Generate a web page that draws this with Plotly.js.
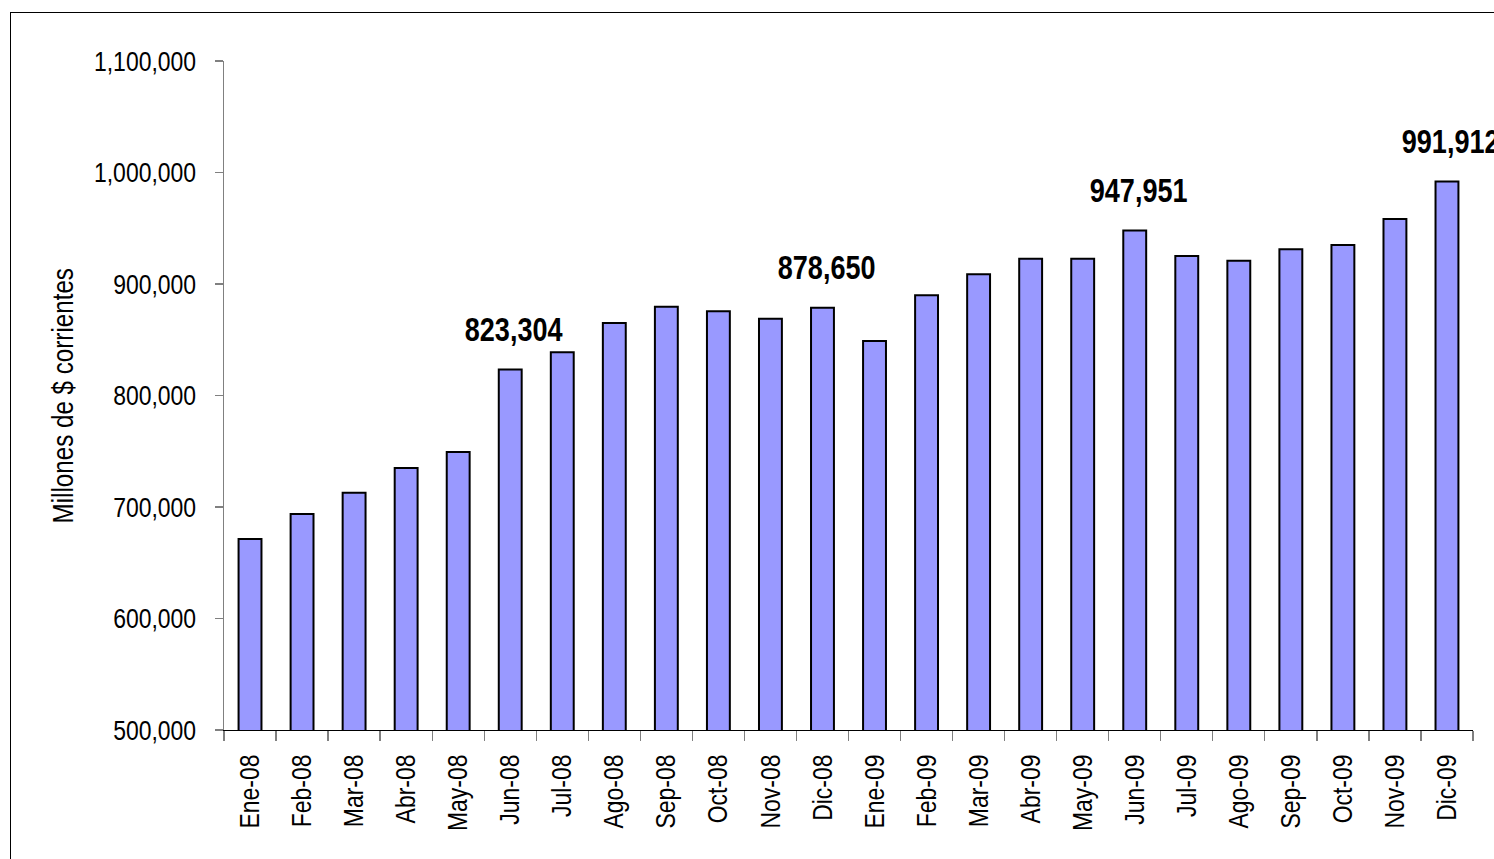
<!DOCTYPE html>
<html>
<head>
<meta charset="utf-8">
<script src="https://cdn.plot.ly/plotly-3.0.1.min.js"></script>
<style>
  html, body { margin: 0; padding: 0; background: #fff; overflow: hidden; }
  #chart { width: 1494px; height: 859px; position: relative; }
  #frame { position: absolute; left: 10px; top: 12px; width: 1700px; height: 1000px;
           border-left: 1.3px solid #000; border-top: 1.3px solid #000; pointer-events: none; }
</style>
</head>
<body>
<div id="chart"></div>
<div id="frame"></div>
<script>
const categories = ["Ene-08","Feb-08","Mar-08","Abr-08","May-08","Jun-08","Jul-08","Ago-08","Sep-08","Oct-08","Nov-08","Dic-08",
                    "Ene-09","Feb-09","Mar-09","Abr-09","May-09","Jun-09","Jul-09","Ago-09","Sep-09","Oct-09","Nov-09","Dic-09"];
const values = [671300, 693700, 712800, 735000, 749300, 823304, 838700, 865000, 879600, 875500, 868900, 878650,
                848900, 889900, 908700, 922700, 922700, 947951, 925100, 920900, 931100, 935000, 958300, 991912];
const labelled = ["Jun-08", "Dic-08", "Jun-09", "Dic-09"];
const yTicks = [500000, 600000, 700000, 800000, 900000, 1000000, 1100000];
const yTickText = ["500,000","600,000","700,000","800,000","900,000","1,000,000","1,100,000"];
const yTitle = "Millones de $ corrientes";

const FONT = "'Liberation Sans', Arial, sans-serif";
const NARROW = 0.82; // emulate Arial Narrow by horizontal scaling of real text
const fmt = v => v.toLocaleString('en-US');

const annotations = labelled.map(c => {
  const i = categories.indexOf(c);
  return {
    x: c, y: values[i], xref: 'x', yref: 'y',
    text: '<b>' + fmt(values[i]) + '</b>',
    showarrow: false, yanchor: 'bottom', xanchor: 'center',
    yshift: 20, xshift: 4,
    font: { family: FONT, size: 33, color: '#000' }
  };
});
annotations.push({
  xref: 'paper', yref: 'paper', x: -0.1297, y: 0.5,
  text: yTitle, textangle: -90, showarrow: false,
  xanchor: 'center', yanchor: 'middle',
  font: { family: FONT, size: 29.5, color: '#000' }
});

const trace = {
  type: 'bar', x: categories, y: values,
  marker: { color: '#9999FF', line: { color: '#000', width: 2 } },
  hoverinfo: 'x+y'
};

const layout = {
  width: 1494, height: 859,
  margin: { l: 224, r: 21, t: 61, b: 129 },
  paper_bgcolor: '#fff', plot_bgcolor: '#fff',
  bargap: 0.56,
  showlegend: false,
  font: { family: FONT, size: 28, color: '#000' },
  xaxis: {
    type: 'category', range: [-0.5, categories.length - 0.5],
    showgrid: false, zeroline: false,
    showline: true, linecolor: '#000', linewidth: 1.3,
    ticks: 'outside', tickson: 'boundaries', ticklen: 10, tickcolor: '#808080', tickwidth: 1.3,
    tickangle: -90, tickfont: { family: FONT, size: 28, color: '#000' },
    ticklabelstandoff: 12
  },
  yaxis: {
    range: [500000, 1100000], showgrid: false, zeroline: false,
    showline: true, linecolor: '#808080', linewidth: 1.3,
    ticks: 'outside', ticklen: 8, tickcolor: '#808080', tickwidth: 1.3,
    tickvals: yTicks, ticktext: yTickText,
    tickfont: { family: FONT, size: 28, color: '#000' },
    ticklabelstandoff: 13
  },
  annotations: annotations
};

Plotly.newPlot('chart', [trace], layout, { displayModeBar: false, staticPlot: true }).then(() => {
  document.querySelectorAll('#chart svg text').forEach(t => {
    const x = parseFloat(t.getAttribute('x')) || 0;
    const y = parseFloat(t.getAttribute('y')) || 0;
    const tr = t.getAttribute('transform') || '';
    t.setAttribute('transform', tr + ' translate(' + x + ',' + y + ') scale(' + NARROW + ',1) translate(' + (-x) + ',' + (-y) + ')');
  });
});
</script>
</body>
</html>
